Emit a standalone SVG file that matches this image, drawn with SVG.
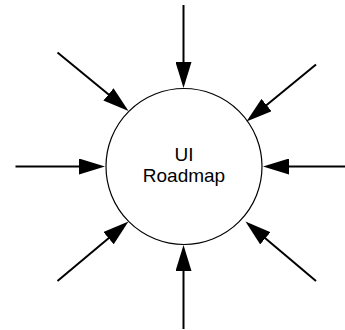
<svg xmlns="http://www.w3.org/2000/svg" width="345" height="330" viewBox="0 0 345 330">
  <style>
    .conn { stroke: #000; stroke-width: 2; fill: none; marker-end: url(#arrow); }
    .hub { fill: #fff; stroke: #000; stroke-width: 1.2; }
    .label { font-family: "Liberation Sans", Arial, sans-serif; font-size: 19px; fill: #000; text-anchor: middle; }
  </style>
  <defs>
    <marker id="arrow" markerUnits="userSpaceOnUse" markerWidth="26" markerHeight="16" refX="16" refY="8" orient="auto">
      <path d="M0,0 L26,8 L0,16 Z" fill="#000"/>
    </marker>
  </defs>
  <rect width="345" height="330" fill="#fff"/>
  <g id="hub">
    <circle class="hub" cx="184" cy="166.5" r="78"/>
    <text class="label" x="184" y="160.5">UI</text>
    <text class="label" x="184" y="181.5">Roadmap</text>
  </g>
  <g id="connectors">
    <line class="conn" x1="183.5" y1="5" x2="183.5" y2="78"/>
    <line class="conn" x1="183.5" y1="329" x2="183.5" y2="255"/>
    <line class="conn" x1="15.5" y1="166.5" x2="95" y2="166.5"/>
    <line class="conn" x1="345" y1="166.5" x2="273" y2="166.5"/>
    <line class="conn" x1="57.5" y1="52.5" x2="120.8" y2="104.6"/>
    <line class="conn" x1="316" y1="64.5" x2="254.2" y2="115.2"/>
    <line class="conn" x1="57.5" y1="281" x2="120.8" y2="227.9"/>
    <line class="conn" x1="316" y1="281" x2="253.1" y2="228"/>
  </g>
</svg>
